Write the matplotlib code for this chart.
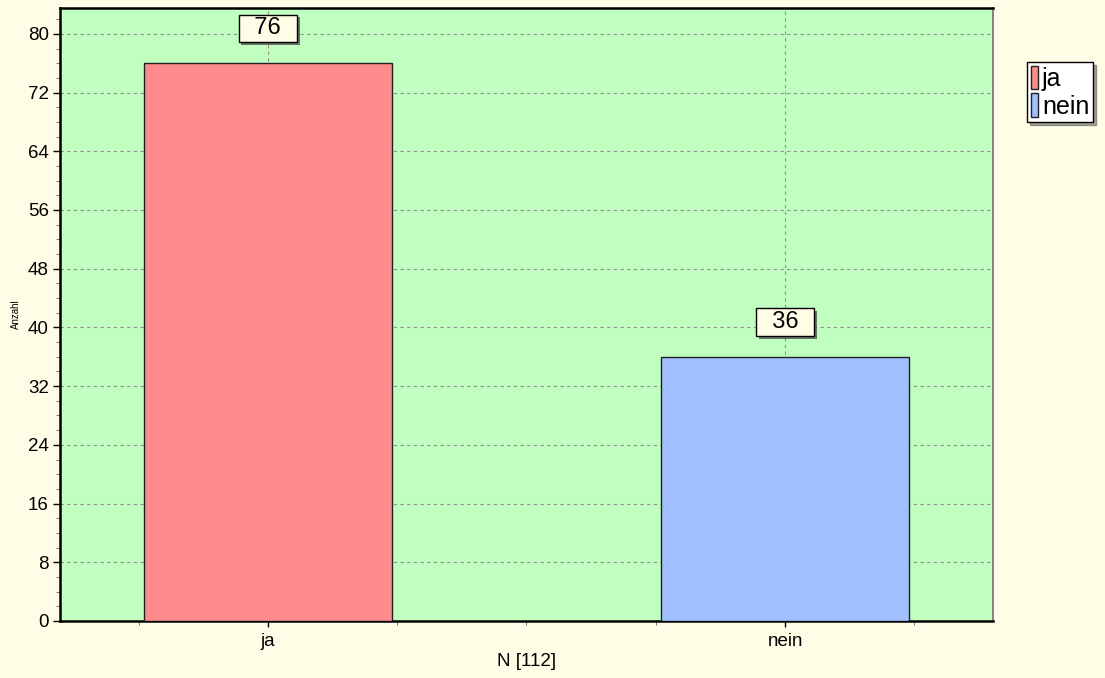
import matplotlib

matplotlib.use("Agg")
import matplotlib.pyplot as plt
from matplotlib.ticker import MultipleLocator
import matplotlib.patheffects as pe

categories = ["ja", "nein"]
counts = [76, 36]
bar_colors = ["#ff8c8c", "#a0c0ff"]
y_ticks = [0, 8, 16, 24, 32, 40, 48, 56, 64, 72, 80]
x_label = "N [112]"
y_label = "Anzahl"

plt.rcParams["font.family"] = ["Liberation Sans", "DejaVu Sans"]

fig = plt.figure(figsize=(11.05, 6.78), dpi=100, facecolor="#fffde6")
ax = fig.add_axes([0.0543, 0.0841, 0.8443, 0.9039])
ax.set_facecolor("#c0ffc0")

x = list(range(len(categories)))
bars = ax.bar(x, counts, width=0.48, color=bar_colors, edgecolor="#202020",
              linewidth=1.0, zorder=3)

ax.set_xlim(-0.402, 1.402)
ax.set_ylim(0, 83.5)
ax.set_yticks(y_ticks)
ax.yaxis.set_minor_locator(MultipleLocator(2))
ax.set_xticks(x)
ax.set_xticklabels(categories, fontsize=13.5)
ax.xaxis.set_minor_locator(MultipleLocator(0.25))
ax.tick_params(axis="y", labelsize=13.5, length=5, width=1, direction="out", pad=3)
ax.tick_params(axis="x", length=4, width=1, pad=5)
ax.tick_params(which="minor", length=3, color="#606060")

ax.grid(True, axis="both", which="major", color="#909090", linestyle=(0, (3, 3)),
        linewidth=0.8, zorder=1)

for side in ["left", "bottom", "top"]:
    ax.spines[side].set_linewidth(1.8)
    ax.spines[side].set_color("black")
ax.spines["right"].set_color("#707070")
ax.spines["right"].set_linewidth(1.2)

ax.set_xlabel(x_label, fontsize=13.5, labelpad=2)
ax.set_ylabel(y_label, fontsize=7, labelpad=5)

for xi, v in zip(x, counts):
    ax.annotate(f"  {v}  ", (xi, v), xytext=(0, 25), textcoords="offset points",
                ha="center", va="center", fontsize=17, zorder=5,
                bbox=dict(boxstyle="square,pad=0.12", facecolor="#fffde6",
                          edgecolor="black", linewidth=1.0,
                          path_effects=[pe.withSimplePatchShadow(offset=(2, -2),
                                                                 shadow_rgbFace="#505050",
                                                                 alpha=0.8)]))

leg = fig.legend(bars, categories, loc="upper left",
                 bbox_to_anchor=(1027 / 1105, 1 - 62 / 678), fontsize=18,
                 handlelength=0.3, handleheight=1.05, handletextpad=0.15,
                 borderpad=0.15, labelspacing=0.1, borderaxespad=0,
                 frameon=True, fancybox=False, shadow=True)
leg.get_frame().set_edgecolor("black")
leg.get_frame().set_facecolor("white")
leg.get_frame().set_alpha(1)

fig.savefig("out.png", dpi=100, facecolor=fig.get_facecolor())
